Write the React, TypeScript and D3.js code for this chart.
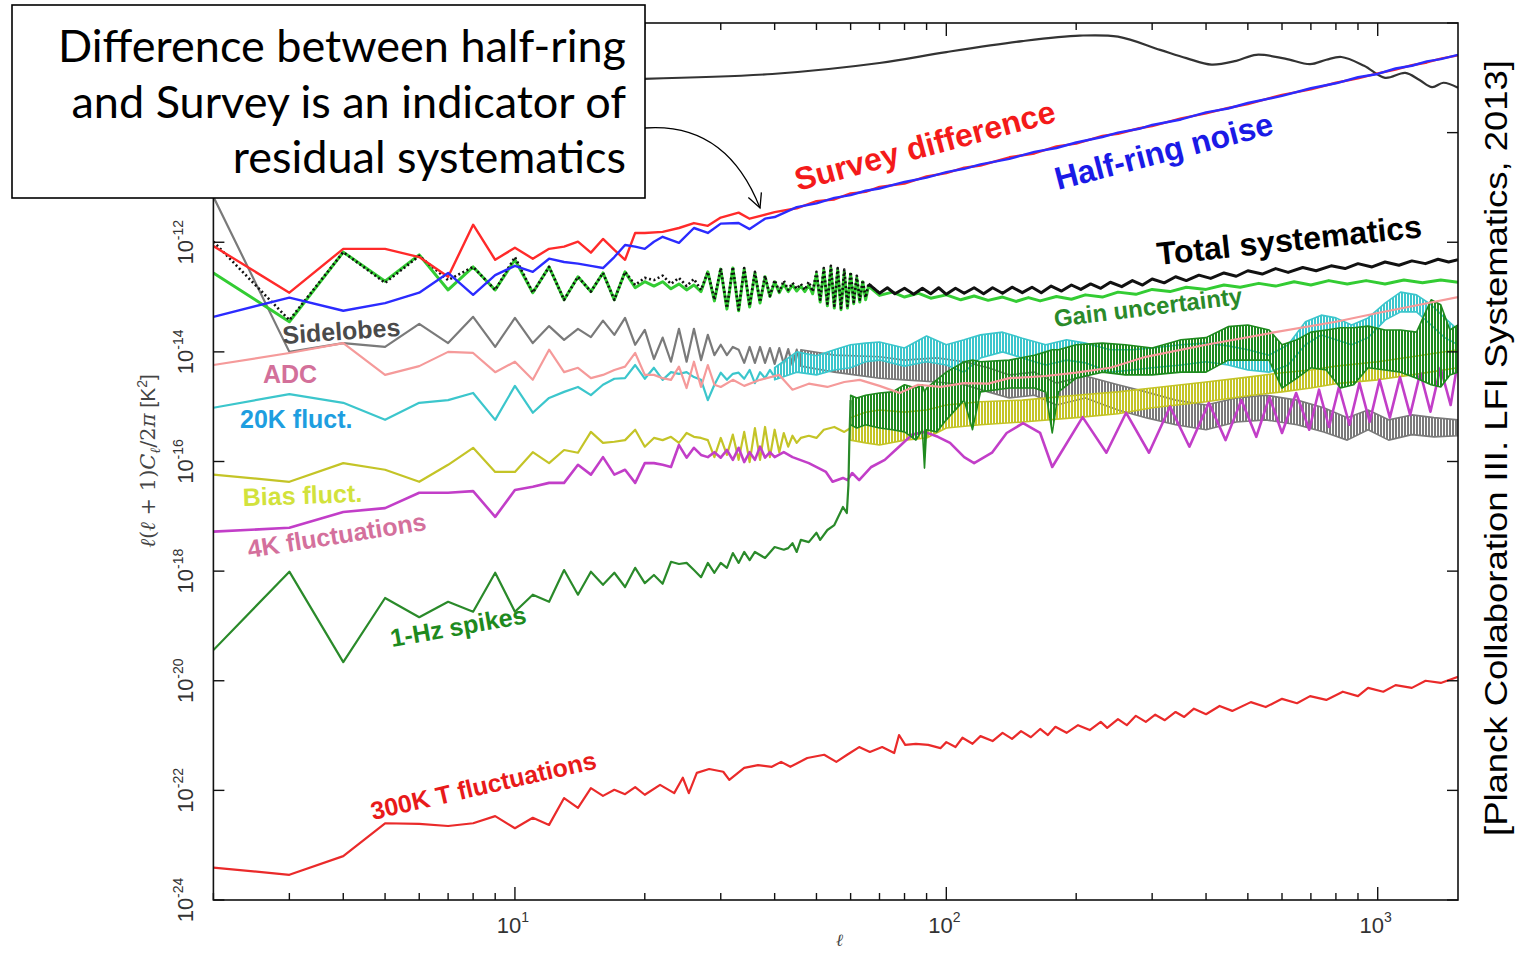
import React from "react";
import { scaleLog, line, area, curveCatmullRom } from "d3";

// every value below is log10 of l(l+1)C_l/2pi in K^2, paired with multipole l
const ELL_MIN = 2;
const ELL_MAX = 1535;
const LOG_MIN = -24;
const LOG_MAX = -8;

const cmb: number[][] = [
  [2, -9.13], [5, -9.07], [10, -9.04], [19.4, -9.02], [39.5, -8.93], [70, -8.73], [100, -8.53],
  [150, -8.33], [204, -8.23], [250, -8.25], [313, -8.49], [360, -8.64], [412, -8.76], [470, -8.69],
  [523, -8.58], [610, -8.65], [697, -8.75], [760, -8.67], [824, -8.62], [930, -8.78], [1040, -9.0],
  [1159, -8.91], [1250, -9.04], [1337, -9.17], [1420, -9.09], [1535, -9.18],
];

const surveyDiff: number[][] = [
  [2, -12.07], [3, -12.92], [4, -12.12], [5, -12.12], [6, -12.27], [7, -12.63], [8, -11.68], [9, -12.32],
  [10, -12.1], [11, -12.3], [12, -12.12], [13, -12.08], [14, -11.99], [15, -12.19], [16, -11.94],
  [17, -12.14], [18, -12.32], [19, -11.83], [20, -11.83], [22, -11.81], [24, -11.74], [26, -11.65],
  [28, -11.7], [30, -11.55], [33, -11.46], [35, -11.57], [40, -11.45], [45, -11.38], [50, -11.25],
  [55, -11.22], [60, -11.11], [65, -11.08], [70, -10.99], [80, -10.93], [90, -10.8], [100, -10.74],
  [110, -10.64], [120, -10.6], [140, -10.45], [160, -10.38], [180, -10.25], [200, -10.2], [230, -10.06],
  [250, -10.02], [280, -9.92], [300, -9.88], [350, -9.74], [400, -9.65], [450, -9.55], [500, -9.48],
  [600, -9.31], [700, -9.21], [800, -9.09], [900, -9.01], [1000, -8.92], [1100, -8.85], [1200, -8.77],
  [1300, -8.72], [1400, -8.65], [1535, -8.59],
];

const halfRing: number[][] = [
  [2, -13.36], [3, -13.01], [4, -13.25], [5, -13.11], [6, -12.92], [7, -12.56], [8, -12.96], [9, -12.6],
  [10, -12.43], [11, -12.54], [12, -12.3], [13, -12.36], [14, -12.39], [15, -12.43], [16, -12.47],
  [17, -12.27], [18, -12.05], [19, -12.08], [20, -12.12], [21, -11.99], [22, -11.9], [24, -12.01],
  [26, -11.74], [28, -11.83], [30, -11.66], [33, -11.65], [35, -11.76], [38, -11.57], [40, -11.54],
  [45, -11.36], [50, -11.29], [55, -11.19], [60, -11.14], [65, -11.06], [70, -11.02], [80, -10.9],
  [90, -10.82], [100, -10.72], [110, -10.66], [120, -10.58], [140, -10.48], [160, -10.35], [180, -10.28],
  [200, -10.18], [230, -10.08], [250, -10.0], [280, -9.93], [300, -9.86], [350, -9.76], [400, -9.63],
  [450, -9.56], [500, -9.46], [600, -9.33], [700, -9.19], [800, -9.1], [900, -8.99], [1000, -8.93],
  [1100, -8.83], [1200, -8.78], [1300, -8.7], [1400, -8.66], [1535, -8.58],
];

const totalSyst: number[][] = [
  [2, -11.99], [3, -13.42], [4, -12.18], [5, -12.74], [6, -12.25], [7, -12.69], [8, -12.45], [9, -12.87],
  [10, -12.27], [11, -12.92], [12, -12.45], [13, -13.05], [14, -12.63], [15, -12.9], [16, -12.56],
  [17, -13.05], [18, -12.54], [19, -12.78], [20, -12.65], [21, -12.69], [22, -12.61], [23, -12.76],
  [24, -12.65], [25, -12.8], [26, -12.67], [27, -12.87], [28, -12.54], [29, -13.05], [30, -12.47],
  [31, -13.2], [32, -12.45], [33, -13.23], [34, -12.47], [35, -13.16], [36, -12.54], [37, -13.09],
  [38, -12.61], [39, -12.98], [40, -12.69], [41, -12.9], [42, -12.7], [43, -12.87], [44, -12.74],
  [45, -12.85], [46, -12.76], [47, -12.87], [48, -12.72], [49, -12.9], [50, -12.54], [51, -13.05],
  [52, -12.47], [53, -13.12], [54, -12.43], [55, -13.16], [56, -12.47], [57, -13.2], [58, -12.5],
  [59, -13.16], [60, -12.54], [61, -13.09], [62, -12.61], [63, -13.05], [64, -12.69], [65, -13.01],
  [66, -12.76], [70, -12.93], [73, -12.83], [76, -12.94], [80, -12.84], [84, -12.95], [88, -12.84],
  [92, -12.94], [96, -12.83], [100, -12.95], [105, -12.84], [110, -12.93], [116, -12.83], [122, -12.94],
  [128, -12.83], [135, -12.93], [142, -12.82], [150, -12.92], [158, -12.82], [166, -12.92], [175, -12.8],
  [185, -12.89], [195, -12.78], [205, -12.86], [216, -12.76], [228, -12.84], [240, -12.73], [255, -12.81],
  [270, -12.7], [285, -12.78], [300, -12.67], [320, -12.74], [340, -12.63], [360, -12.7], [385, -12.6],
  [410, -12.66], [440, -12.56], [470, -12.62], [500, -12.52], [540, -12.58], [580, -12.48], [620, -12.55],
  [670, -12.46], [720, -12.52], [780, -12.43], [840, -12.48], [900, -12.39], [970, -12.45], [1040, -12.36],
  [1120, -12.42], [1200, -12.34], [1290, -12.39], [1380, -12.31], [1460, -12.36], [1535, -12.32],
];

const gainUnc: number[][] = [
  [2, -12.56], [3, -13.45], [4, -12.18], [5, -12.71], [6, -12.23], [7, -12.87], [8, -12.45], [9, -12.87],
  [10, -12.32], [11, -12.92], [12, -12.45], [13, -13.05], [14, -12.63], [15, -12.9], [16, -12.56],
  [17, -13.05], [18, -12.54], [19, -12.83], [20, -12.72], [21, -12.8], [22, -12.72], [23, -12.85],
  [24, -12.76], [25, -12.87], [26, -12.78], [27, -12.9], [28, -12.54], [29, -13.07], [30, -12.49],
  [31, -13.22], [32, -12.47], [33, -13.25], [34, -12.49], [35, -13.18], [36, -12.56], [37, -13.11],
  [38, -12.63], [39, -12.99], [40, -12.72], [41, -12.92], [42, -12.76], [43, -12.9], [44, -12.78],
  [45, -12.89], [46, -12.8], [47, -12.9], [48, -12.78], [49, -12.94], [50, -12.58], [51, -13.09],
  [52, -12.5], [53, -13.16], [54, -12.47], [55, -13.2], [56, -12.5], [57, -13.23], [58, -12.54],
  [59, -13.2], [60, -12.58], [61, -13.12], [62, -12.65], [63, -13.09], [64, -12.72], [65, -13.05],
  [66, -12.8], [70, -12.97], [75, -12.91], [80, -13.0], [86, -12.93], [92, -13.02], [100, -12.96],
  [108, -13.05], [116, -12.98], [125, -13.06], [135, -13.0], [145, -13.08], [155, -13.01], [165, -13.07],
  [180, -12.99], [195, -13.04], [210, -12.96], [230, -13.0], [250, -12.91], [275, -12.95], [300, -12.86],
  [330, -12.9], [360, -12.82], [400, -12.86], [440, -12.78], [480, -12.82], [530, -12.75], [580, -12.8],
  [640, -12.72], [700, -12.78], [770, -12.7], [850, -12.76], [940, -12.7], [1040, -12.76], [1150, -12.69],
  [1270, -12.74], [1400, -12.69], [1535, -12.73],
];

const sidelobes: number[][] = [
  [2, -11.17], [3, -14.0], [4, -13.84], [5, -13.91], [6, -13.49], [7, -13.84], [8, -13.36], [9, -13.91],
  [10, -13.38], [11, -13.84], [12, -13.53], [13, -13.78], [14, -13.58], [15, -13.73], [16, -13.43],
  [17, -13.69], [18, -13.38], [19, -13.87], [20, -13.6], [21, -14.13], [22, -13.74], [23, -14.18],
  [24, -13.58], [25, -14.18], [26, -13.58], [27, -14.15], [28, -13.69], [29, -14.06], [30, -13.87],
  [31, -14.06], [32, -13.91], [33, -13.96], [34, -14.2], [35, -13.91], [36, -14.2], [37, -13.91],
  [38, -14.2], [39, -13.93], [40, -14.22], [41, -13.93], [42, -14.22], [43, -13.95], [44, -14.24],
  [45, -13.96], [46, -14.26],
];
// [l, upper, lower] envelopes of the densely oscillating parts
const sidelobesBand: number[][] = [
  [46, -13.96, -14.26], [55, -14.06, -14.37], [70, -14.09, -14.48], [80, -14.15, -14.51],
  [95, -14.11, -14.55], [110, -14.18, -14.6], [125, -14.29, -14.73], [140, -14.42, -14.84],
  [160, -14.37, -14.79], [180, -14.57, -14.97], [210, -14.44, -14.84], [250, -14.6, -15.06],
  [290, -14.73, -15.2], [340, -14.88, -15.33], [400, -14.97, -15.42], [470, -14.84, -15.28],
  [550, -14.79, -15.24], [650, -14.88, -15.33], [750, -15.02, -15.46], [850, -15.2, -15.61],
  [950, -15.06, -15.42], [1060, -15.24, -15.61], [1200, -15.15, -15.51], [1350, -15.2, -15.55],
  [1535, -15.24, -15.53],
];

const adc: number[][] = [
  [2, -14.24], [3, -14.02], [4, -13.84], [5, -14.42], [6, -14.26], [7, -14.0], [8, -14.02], [9, -14.37],
  [10, -14.18], [11, -14.51], [12, -13.96], [13, -14.37], [14, -14.29], [15, -14.48], [16, -14.42],
  [17, -14.33], [18, -14.27], [19, -14.02], [20, -14.42], [21, -14.42], [22, -14.48], [23, -14.51],
  [24, -14.27], [25, -14.66], [26, -14.18], [27, -14.64], [28, -14.24], [29, -14.6], [30, -14.64],
  [32, -14.51], [34, -14.62], [37, -14.51], [41, -14.42], [44, -14.69], [48, -14.58], [53, -14.64],
  [58, -14.55], [63, -14.51], [70, -14.62], [78, -14.75], [86, -14.6], [97, -14.64], [110, -14.57],
  [125, -14.58], [140, -14.48], [170, -14.44], [200, -14.38], [240, -14.29], [290, -14.09], [400, -13.87],
  [570, -13.65], [800, -13.45], [1000, -13.29], [1250, -13.14], [1535, -13.0],
];

const fluct20K: number[][] = [
  [2, -15.02], [3, -14.77], [4, -14.93], [5, -15.24], [6, -14.93], [7, -14.88], [8, -14.75], [9, -15.24],
  [10, -14.62], [11, -15.11], [12, -14.84], [13, -14.73], [14, -14.64], [15, -14.79], [16, -14.6],
  [17, -14.49], [18, -14.48], [19, -14.24], [20, -14.49], [21, -14.29], [22, -14.51], [23, -14.37],
  [24, -14.4], [25, -14.37], [26, -14.46], [27, -14.51], [28, -14.88], [29, -14.6], [30, -14.38],
  [31, -14.51], [32, -14.4], [33, -14.38], [34, -14.49], [35, -14.33], [36, -14.57], [37, -14.37],
  [38, -14.48], [39, -14.33], [40, -14.46],
];
const fluct20KBand: number[][] = [
  [40, -14.29, -14.51], [45, -14.0, -14.37], [50, -14.07, -14.42], [55, -13.96, -14.33],
  [60, -13.87, -14.29], [65, -13.84, -14.18], [70, -13.82, -14.15], [80, -13.93, -14.26],
  [90, -13.71, -14.18], [100, -13.87, -14.24], [110, -13.78, -14.37], [120, -13.69, -14.11],
  [135, -13.64, -14.0], [150, -13.75, -14.11], [170, -13.87, -14.24], [190, -13.78, -14.15],
  [210, -13.84, -14.2], [240, -13.96, -14.37], [270, -13.96, -14.33], [300, -13.93, -14.29],
  [350, -13.87, -14.24], [400, -13.84, -14.18], [450, -13.89, -14.24], [500, -13.96, -14.33],
  [560, -14.06, -14.37], [620, -13.87, -14.24], [680, -13.45, -13.87], [740, -13.33, -13.69],
  [800, -13.38, -13.78], [870, -13.51, -13.87], [950, -13.38, -13.74], [1040, -13.11, -13.42],
  [1130, -12.91, -13.27], [1230, -12.96, -13.27], [1330, -13.14, -13.51], [1430, -13.38, -13.74],
  [1535, -13.6, -13.87],
];

const biasFluct: number[][] = [
  [2, -16.24], [3, -16.37], [4, -16.03], [5, -16.15], [6, -16.37], [7, -16.06], [8, -15.75], [9, -16.19],
  [10, -16.19], [11, -15.83], [12, -16.03], [13, -15.79], [14, -15.84], [15, -15.46], [16, -15.66],
  [17, -15.64], [18, -15.61], [19, -15.42], [20, -15.73], [21, -15.57], [22, -15.61], [23, -15.55],
  [24, -15.66], [25, -15.48], [26, -15.55], [27, -15.57], [28, -15.61], [29, -15.92], [30, -15.57],
  [31, -15.88], [32, -15.51], [33, -15.97], [34, -15.46], [35, -16.01], [36, -15.39], [37, -15.97],
  [38, -15.37], [39, -15.92], [40, -15.42], [41, -15.83], [42, -15.48], [43, -15.73], [44, -15.53],
  [45, -15.66], [46, -15.57], [48, -15.53], [50, -15.57], [52, -15.42], [55, -15.37], [58, -15.46],
  [60, -15.39],
];
const biasFluctBand: number[][] = [
  [60, -15.2, -15.61], [65, -15.1, -15.66], [70, -15.06, -15.7], [80, -15.1, -15.61], [90, -15.06, -15.57],
  [100, -14.97, -15.39], [120, -14.91, -15.33], [150, -14.88, -15.28], [200, -14.79, -15.2],
  [250, -14.73, -15.13], [300, -14.66, -15.02], [400, -14.55, -14.91], [500, -14.46, -14.8],
  [600, -14.38, -14.73], [700, -14.33, -14.66], [800, -14.26, -14.58], [1000, -14.18, -14.51],
  [1200, -14.09, -14.42], [1535, -13.96, -14.29],
];

const fluct4K: number[][] = [
  [2, -17.28], [3, -17.21], [4, -16.92], [5, -16.85], [6, -16.57], [7, -16.57], [8, -16.54], [9, -17.01],
  [10, -16.52], [11, -16.46], [12, -16.39], [13, -16.39], [14, -16.06], [15, -16.24], [16, -15.92],
  [17, -16.24], [18, -16.15], [19, -16.39], [20, -16.03], [21, -16.03], [22, -16.06], [23, -16.1],
  [24, -15.7], [25, -15.93], [26, -15.75], [27, -15.88], [28, -15.92], [29, -15.83], [30, -15.93],
  [31, -15.79], [32, -15.97], [33, -15.75], [34, -16.01], [35, -15.83], [36, -15.97], [37, -15.73],
  [38, -15.93], [39, -15.83], [40, -15.92], [42, -15.83], [44, -15.92], [48, -16.03], [52.6, -16.19],
  [54.5, -16.37], [57.6, -16.3], [59, -16.34], [60.5, -16.21], [62.8, -16.34], [67, -16.1], [72, -15.97],
  [77.7, -15.73], [83.3, -15.51], [89, -15.46], [95.6, -15.55], [102, -15.66], [110, -15.92], [116, -16.03],
  [127.6, -15.84], [138, -15.48], [150.6, -15.3], [165, -15.48], [176, -16.1], [207, -15.19], [235, -15.84],
  [261, -15.11], [295, -15.84], [330, -15.0], [366, -15.73], [406, -14.93], [444, -15.61], [483, -14.88],
  [523, -15.55], [561, -14.82], [600, -15.48], [647, -14.75], [694, -15.42], [731, -14.69], [771, -15.37],
  [813, -14.64], [860, -15.33], [907, -14.57], [958, -15.28], [1010, -14.51], [1067, -15.2], [1126, -14.46],
  [1189, -15.15], [1255, -14.38], [1325, -15.09], [1398, -14.29], [1476, -14.97], [1535, -14.15],
];

const spikes1Hz: number[][] = [
  [2, -19.44], [3, -18.01], [4, -19.66], [5, -18.49], [6, -18.84], [7, -18.56], [8, -18.74], [9, -18.03],
  [10, -18.74], [11, -18.43], [12, -18.56], [13, -17.98], [14, -18.43], [15, -18.01], [16, -18.25],
  [17, -18.03], [18, -18.29], [19, -17.94], [20, -18.22], [21, -18.07], [22, -18.23], [23, -17.83],
  [24, -17.87], [25, -17.85], [26, -17.98], [27, -18.11], [28, -17.85], [29, -18.03], [30, -17.85],
  [31, -17.94], [32, -17.67], [33, -17.85], [34, -17.65], [35, -17.8], [36, -17.65], [38, -17.76],
  [40, -17.56], [42, -17.61], [43, -17.58], [44, -17.49], [45, -17.65], [46, -17.43], [48, -17.47],
  [50, -17.3], [51, -17.43], [53, -17.25], [55, -17.16], [56, -17.03], [57.6, -16.83], [58.8, -16.94],
  [59.3, -16.43], [59.6, -15.61], [60, -14.88],
];
const spikes1HzBand: number[][] = [
  [60, -14.79, -15.33], [62, -14.84, -15.39], [65, -14.79, -15.33], [70, -14.75, -15.39],
  [75, -14.73, -15.42], [80, -14.6, -15.46], [85, -14.66, -15.61], [88, -14.6, -15.42],
  [89, -14.73, -16.12], [90, -14.66, -15.42], [95, -14.51, -15.46], [100, -14.37, -15.24],
  [110, -14.18, -14.88], [115, -14.15, -15.42], [120, -14.18, -14.73], [140, -14.15, -14.66],
  [160, -14.06, -14.66], [170, -14.0, -14.73], [176, -13.96, -15.48], [182, -13.96, -14.73],
  [200, -13.87, -14.48], [230, -13.84, -14.37], [260, -13.87, -14.42], [300, -13.93, -14.42],
  [350, -13.78, -14.37], [400, -13.74, -14.37], [450, -13.54, -14.15], [500, -13.51, -14.15],
  [560, -13.6, -14.15], [600, -13.87, -14.66], [650, -13.78, -14.48], [700, -13.64, -14.29],
  [760, -13.6, -14.33], [820, -13.56, -14.66], [880, -13.56, -14.6], [950, -13.53, -14.29],
  [1040, -13.6, -14.33], [1130, -13.6, -14.37], [1230, -13.64, -14.48], [1330, -13.05, -14.6],
  [1400, -13.14, -14.64], [1470, -13.6, -14.42], [1535, -13.51, -14.37],
];

const fluct300K: number[][] = [
  [2, -23.41], [3, -23.54], [4, -23.2], [5, -22.6], [6, -22.61], [7, -22.65], [8, -22.6], [9, -22.47],
  [10, -22.69], [11, -22.5], [12, -22.63], [13, -22.14], [14, -22.32], [15, -21.96], [16, -22.1],
  [17, -21.99], [18, -22.07], [19, -21.94], [20, -22.08], [21.7, -21.9], [23.4, -22.05], [24.5, -21.77],
  [25.3, -22.05], [26.4, -21.68], [28.2, -21.61], [30.4, -21.66], [31.4, -21.81], [34, -21.59],
  [36.6, -21.54], [39.4, -21.57], [41.4, -21.48], [43.5, -21.57], [47.6, -21.41], [52.1, -21.35],
  [55.6, -21.48], [58.9, -21.35], [62.8, -21.21], [66.5, -21.3], [71, -21.21], [75.7, -21.32],
  [77.7, -20.99], [80.3, -21.17], [85, -21.15], [90.8, -21.17], [96.9, -21.23], [100, -21.12],
  [105, -21.21], [109, -21.04], [115, -21.15], [120, -21.01], [128, -21.1], [135, -20.95], [142, -21.06],
  [149, -20.92], [157, -21.03], [165, -20.88], [172, -20.99], [179, -20.84], [190, -20.95], [202, -20.81],
  [215, -20.9], [228, -20.75], [236, -20.86], [250, -20.7], [262, -20.81], [275, -20.64], [290, -20.75],
  [305, -20.62], [321, -20.72], [340, -20.57], [356, -20.66], [375, -20.51], [400, -20.61], [430, -20.46],
  [460, -20.55], [508, -20.39], [550, -20.48], [600, -20.33], [650, -20.41], [697, -20.28], [760, -20.35],
  [830, -20.2], [900, -20.28], [950, -20.13], [1030, -20.2], [1100, -20.08], [1200, -20.13],
  [1291, -20.0], [1400, -20.04], [1535, -19.93],
];

const yTickExps = [-24, -22, -20, -18, -16, -14, -12, -10, -8];
const xLabelExps = [1, 2, 3];
const boxLines = [
  "Difference between half-ring",
  "and Survey is an indicator of",
  "residual systematics",
];
const citation = "[Planck Collaboration III. LFI Systematics,  2013]";

const SANS = "'Liberation Sans', Arial, sans-serif";

const bandColors: Record<string, string> = {
  grey: "#7a7a7a",
  cyan: "#3cc6cc",
  bias: "#c4c427",
  hz: "#1f8a1f",
};

export default function App() {
  const left = 213.4;
  const right = 1458;
  const top = 23;
  const bottom = 900;

  const x = scaleLog().domain([ELL_MIN, ELL_MAX]).range([left, right]);
  const y = scaleLog().domain([10 ** LOG_MIN, 10 ** LOG_MAX]).range([bottom, top]);

  const path = line<number[]>()
    .x((d) => x(d[0]))
    .y((d) => y(10 ** d[1]));
  const smooth = line<number[]>()
    .x((d) => x(d[0]))
    .y((d) => y(10 ** d[1]))
    .curve(curveCatmullRom);
  const band = area<number[]>()
    .x((d) => x(d[0]))
    .y0((d) => y(10 ** d[2]))
    .y1((d) => y(10 ** d[1]));

  const xTicks = x.ticks();
  const isMajor = (v: number) => Math.abs(Math.log10(v) - Math.round(Math.log10(v))) < 1e-6;

  // dense oscillations drawn as a striped envelope
  const bandEl = (data: number[][], key: string) => (
    <path
      d={band(data) || ""}
      fill={`url(#stripe-${key})`}
      stroke={bandColors[key]}
      strokeWidth={1.6}
      strokeLinejoin="round"
    />
  );
  const lineEl = (data: number[][], color: string, w = 2.2, dash?: string) => (
    <path
      d={path(data) || ""}
      fill="none"
      stroke={color}
      strokeWidth={w}
      strokeLinejoin="round"
      strokeDasharray={dash}
    />
  );

  const label = (
    text: string,
    lx: number,
    ly: number,
    angle: number,
    color: string,
    size: number
  ) => (
    <text
      transform={`translate(${lx},${ly}) rotate(${angle})`}
      fill={color}
      fontFamily={SANS}
      fontWeight="bold"
      fontSize={size}
    >
      {text}
    </text>
  );

  return (
    <svg
      width={1517}
      height={957}
      style={{ position: "absolute", left: 0, top: 0, background: "#fff" }}
    >
      <defs>
        <clipPath id="plotArea">
          <rect x={left} y={top} width={right - left} height={bottom - top} />
        </clipPath>
        {Object.entries(bandColors).map(([k, c]) => (
          <pattern key={k} id={`stripe-${k}`} width={3} height={8} patternUnits="userSpaceOnUse">
            <rect width={2} height={8} fill={c} />
          </pattern>
        ))}
        <marker
          id="arrowHead"
          markerWidth={20}
          markerHeight={20}
          refX={15}
          refY={8}
          orient="auto"
          markerUnits="userSpaceOnUse"
        >
          <path d="M1,1 L15,8 L1,15" fill="none" stroke="#000" strokeWidth={1.3} />
        </marker>
      </defs>

      <g clipPath="url(#plotArea)">
        <path d={smooth(cmb) || ""} fill="none" stroke="#333" strokeWidth={2.2} />
        {bandEl(sidelobesBand, "grey")}
        {lineEl(sidelobes, "#7a7a7a")}
        {bandEl(fluct20KBand, "cyan")}
        {lineEl(fluct20K, "#3cc6cc")}
        {bandEl(biasFluctBand, "bias")}
        {lineEl(biasFluct, "#c4c427")}
        {lineEl(fluct4K, "#c23ec8", 2.6)}
        {bandEl(spikes1HzBand, "hz")}
        {lineEl(spikes1Hz, "#2a8a2a")}
        {lineEl(adc, "#f59a9a", 2.2)}
        {lineEl(gainUnc, "#33cc33", 3)}
        {lineEl(totalSyst.filter((d) => d[0] <= 70), "#111", 2.6, "2 2.6")}
        {lineEl(totalSyst.filter((d) => d[0] >= 66), "#111", 3)}
        {lineEl(surveyDiff, "#ff2a2a", 2.4)}
        {lineEl(halfRing, "#2b2bff", 2.4)}
        {lineEl(fluct300K, "#ea2a2a", 2.2)}
      </g>

      {/* frame */}
      <rect x={left} y={top} width={right - left} height={bottom - top} fill="none" stroke="#111" strokeWidth={1.6} />
      {xTicks.map((t) => {
        const len = isMajor(t) ? 13 : 7;
        return (
          <g key={`xt${t}`} stroke="#111" strokeWidth={1.4}>
            <line x1={x(t)} x2={x(t)} y1={bottom} y2={bottom - len} />
            <line x1={x(t)} x2={x(t)} y1={top} y2={top + len} />
          </g>
        );
      })}
      {yTickExps.map((e) => (
        <g key={`yt${e}`} stroke="#111" strokeWidth={1.4}>
          <line x1={left} x2={left + 11} y1={y(10 ** e)} y2={y(10 ** e)} />
          <line x1={right} x2={right - 11} y1={y(10 ** e)} y2={y(10 ** e)} />
        </g>
      ))}

      {/* tick labels */}
      {yTickExps.map((e) => (
        <text
          key={`yl${e}`}
          transform={`translate(193,${y(10 ** e)}) rotate(-90)`}
          textAnchor="middle"
          fontFamily={SANS}
          fontSize={22}
          fill="#333"
        >
          10
          <tspan dy={-10} fontSize={14}>
            {String(e)}
          </tspan>
        </text>
      ))}
      {xLabelExps.map((e) => (
        <text
          key={`xl${e}`}
          x={x(10 ** e) - 2}
          y={933}
          textAnchor="middle"
          fontFamily={SANS}
          fontSize={22}
          fill="#333"
        >
          10
          <tspan dy={-11} fontSize={14}>
            {String(e)}
          </tspan>
        </text>
      ))}

      {/* axis titles */}
      <text
        transform="translate(155,461) rotate(-90)"
        textAnchor="middle"
        fontFamily="'DejaVu Serif', serif"
        fontSize={21}
        fill="#444"
      >
        <tspan fontStyle="italic">ℓ</tspan>(<tspan fontStyle="italic">ℓ</tspan> + 1)
        <tspan fontStyle="italic">C</tspan>
        <tspan fontStyle="italic" fontSize={14} dy={5}>ℓ</tspan>
        <tspan dy={-5}>/2</tspan>
        <tspan fontStyle="italic">π</tspan>
        <tspan fontFamily={SANS}> [K</tspan>
        <tspan fontFamily={SANS} fontSize={14} dy={-8}>2</tspan>
        <tspan fontFamily={SANS} dy={8}>]</tspan>
      </text>
      <text x={836} y={946} fontFamily="'DejaVu Serif', serif" fontStyle="italic" fontSize={17} fill="#444">
        ℓ
      </text>

      {/* series labels */}
      {label("Survey difference", 798, 191, -15, "#f41a1a", 32)}
      {label("Half-ring noise", 1058, 190, -14.5, "#1a1ae6", 32)}
      {label("Total systematics", 1158, 265, -6, "#000", 32)}
      {label("Gain uncertainty", 1055, 327, -7, "#2a8a2a", 24)}
      {label("Sidelobes", 283, 344, -4, "#4a4a4a", 25)}
      {label("ADC", 263, 383, 0, "#d3709a", 25)}
      {label("20K fluct.", 240, 428, 0, "#1e9ee0", 25)}
      {label("Bias fluct.", 243, 506, -2, "#d2e23c", 25)}
      {label("4K fluctuations", 249, 558, -9, "#d4709c", 25)}
      {label("1-Hz spikes", 392, 647, -10, "#1e8a1e", 25)}
      {label("300K T fluctuations", 373, 820, -13, "#e81a1a", 25)}

      {/* annotation box */}
      <rect x={12} y={5} width={633} height={193} fill="#fff" stroke="#000" strokeWidth={1.6} />
      {boxLines.map((t, i) => (
        <text
          key={t}
          x={626}
          y={62 + i * 55.5}
          textAnchor="end"
          fontFamily="Lato, 'Open Sans', sans-serif"
          fontSize={45}
          fill="#000"
        >
          {t}
        </text>
      ))}
      <path
        d="M645,128 C700,124 738,152 760,208"
        fill="none"
        stroke="#000"
        strokeWidth={1.3}
        markerEnd="url(#arrowHead)"
      />

      {/* citation */}
      <text
        transform="translate(1507,448) rotate(-90)"
        textAnchor="middle"
        fontFamily="'Liberation Sans Narrow', 'Liberation Sans', Arial, sans-serif"
        fontSize={31}
        fill="#000"
        textLength={776}
        lengthAdjust="spacingAndGlyphs"
      >
        {citation}
      </text>
    </svg>
  );
}
